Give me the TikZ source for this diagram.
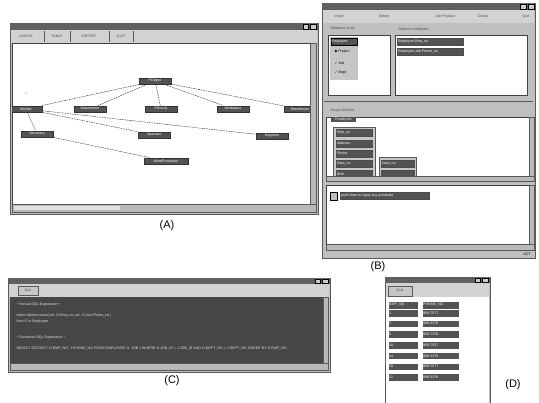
\documentclass[tikz,border=0pt]{standalone}
\usepackage{fontspec}
\setmainfont{Liberation Sans}
\setsansfont{Liberation Sans}
\newfontfamily\symfont{DejaVu Sans}
\tikzset{
  frame/.style={fill=gray!50, draw=gray!70!black, line width=0.6pt},
  titlebar/.style={fill=gray!75!black},
  menubar/.style={fill=gray!35},
  pane/.style={fill=white, draw=black!75, line width=0.5pt},
  scrollbar/.style={fill=gray!55, draw=gray!70!black, line width=0.3pt},
  tiny/.style={font=\fontsize{3.6}{4}\selectfont},
  cls/.style={tiny, fill=gray!65!black, draw=black!80, text=white, inner sep=0.8pt, minimum width=32pt, minimum height=6.5pt},
  item/.style={tiny, fill=gray!65!black, draw=black!70, text=white, inner sep=0.8pt, minimum height=7pt, anchor=west, align=left},
  cell/.style={tiny, fill=gray!65!black, draw=white, text=white, inner sep=1pt, minimum height=7.5pt, anchor=west, align=left},
  menu/.style={tiny, text=black!70},
  caption/.style={font=\fontsize{11}{12}\selectfont},
  link/.style={black!80, line width=0.45pt, dash pattern=on 1.6pt off 0.9pt}
}
\begin{document}
\begin{tikzpicture}[x=1pt,y=-1pt]
  \useasboundingbox (0,0) rectangle (539,403);

  % window A: class graph
  \draw[frame] (10,23) rectangle (318,214);
  \fill[titlebar] (10,23) rectangle (318,30);
  \draw[fill=gray!40] (303,24) rectangle (308,29) (310,24) rectangle (316,29);
  \fill[menubar] (11,30) rectangle (317,43);
  \draw[gray!70!black] (44,31) -- (44,42) (70,31) -- (70,42) (109,31) -- (109,42) (133,31) -- (133,42);
  \node[menu] (aLayout) at (26,36.5) {LAYOUT};
  \node[menu] (aTable) at (57,36.5) {TABLE};
  \node[menu] (aExport) at (89,36.5) {EXPORT};
  \node[menu] (aQuit) at (121,36.5) {QUIT};
  \draw[pane] (12,43) rectangle (310,204);
  \begin{scope}
    \clip (12,43) rectangle (310,204);
    \draw
      (155,81) node[cls] (po){PObject}
      (26,109) node[cls] (wk){Worker}
      (90,109) node[cls] (dep){Department}
      (161,109) node[cls] (hr){PHourly}
      (233,109) node[cls] (wp){Workplace}
      (300,109) node[cls] (wh){Warehouse}
      (37,134) node[cls] (sec){Secretary}
      (154,135) node[cls] (op){Operator}
      (272,136) node[cls] (eng){Engineer}
      (166,161) node[cls, minimum width=44pt] (wpr){WordProcessor};
    \begin{scope}[link]
      \draw (po) to (wk);
      \draw (po) to (dep);
      \draw (po) to (hr);
      \draw (po) to (wp);
      \draw (po) to (wh);
      \draw (wk) to (sec);
      \draw (wk) to (op);
      \draw (wk) to (eng);
      \draw (sec) to (wpr);
    \end{scope}
    \fill[gray] (26,93) circle (0.6pt);
  \end{scope}
  \draw[scrollbar] (310,43) rectangle (316,204);
  \draw[scrollbar] (12,204) rectangle (316,212);
  \fill[gray!25] (14,206) rectangle (120,210);
  \node[caption] (capA) at (167,226) {(A)};

  % window B: query builder
  \draw[frame] (322,3) rectangle (535,258);
  \fill[titlebar] (322,3) rectangle (535,10);
  \draw[fill=gray!40] (520,4) rectangle (526,9) (528,4) rectangle (534,9);
  \fill[menubar] (323,10) rectangle (534,23);
  \node[menu] (bInsert) at (339,16.5) {Insert};
  \node[menu] (bDelete) at (384,16.5) {Delete};
  \node[menu] (bJoin) at (445,16.5) {Join Product};
  \node[menu] (bCheck) at (483,16.5) {Check};
  \node[menu] (bQuit) at (526,16.5) {Quit};
  \node[menu, anchor=west] (bRel) at (327,29) {Relations (List)};
  \node[menu, anchor=west] (bSel) at (395,29) {Selected Attributes};
  \draw[pane] (328,35) rectangle (390,95);
  \draw[pane] (395,35) rectangle (527,95);
  \fill[gray!45] (330,37) rectangle (358,80);
  \node[item, draw=black, line width=0.6pt, text width=25pt] (bEmp) at (330.5,41.5) {Employee};
  \node[tiny, anchor=west] (bProj) at (331,52) {{\symfont ◆} Project};
  \node[tiny, anchor=west] (bJob) at (331,63) {{\symfont ✓} Job};
  \node[tiny, anchor=west] (bDept) at (331,73) {{\symfont ✓} Dept};
  \node[item, text width=64pt] (bAttrA) at (397,41.5) {Employee.Emp\_no};
  \node[item, text width=64pt] (bAttrB) at (397,51.5) {Employee.Job.Phone\_no};
  \draw[gray!70!black] (324,101) -- (533,101);
  \node[menu, anchor=west] (bTarget) at (327,111) {Target Window};
  \draw[pane] (326,117) rectangle (529,176);
  \begin{scope}
    \clip (326,117) rectangle (529,176);
    \fill[gray!65!black] (331,117) rectangle (356,122);
    \node[tiny, text=white] (bTab) at (343.5,119.5) {Employee};
    \draw[fill=gray!45, draw=gray!70!black] (333,127) rectangle (375,182);
    \foreach \i/\t in {0/Emp\_no, 1/Address, 2/Phone, 3/Dept\_no, 4/Birth}
      \node[item, text width=34pt] (bCol\i) at (336,{133+10.3*\i}) {\t};
    \draw[fill=gray!45, draw=gray!70!black] (379,157) rectangle (416,182);
    \node[item, text width=31pt] (bDno) at (381,163.5) {Dept\_no};
    \node[item, text width=31pt] (bDnx) at (381,174) {};
  \end{scope}
  \draw[scrollbar] (529,117) rectangle (534,176);
  \draw[scrollbar] (326,176) rectangle (534,181);
  \draw[pane] (326,185) rectangle (529,244);
  \draw[fill=gray!50] (330,192) rectangle (337,200);
  \node[item, text width=87pt] (bPred) at (340,196) {push here to input any predicate};
  \draw[scrollbar] (529,185) rectangle (534,244);
  \draw[scrollbar] (326,244) rectangle (534,250);
  \node[tiny] (bAct) at (527,254) {ACT};
  \node[caption] (capB) at (378,267) {(B)};

  % window C: expressions
  \draw[frame] (8,278) rectangle (330,372);
  \fill[titlebar] (8,278) rectangle (330,284);
  \draw[fill=gray!40] (315,279) rectangle (320,283) (322,279) rectangle (328,283);
  \fill[menubar] (9,284) rectangle (329,297);
  \draw[fill=gray!45, draw=gray!70!black] (18,286) rectangle (38,295);
  \node[menu] (cQuit) at (28,290.5) {Quit};
  \fill[gray!55!black] (10,297) rectangle (323,363);
  \begin{scope}[every node/.style={tiny, text=gray!20, anchor=west}]
    \node (cHdA) at (13,305) {* Textual OQL Expression *};
    \node (cOqlA) at (13,316) {select distinct struct( e\#: O.Emp\_no, p\#: O.Job.Phone\_no )};
    \node (cOqlB) at (13,322) {from O in Employee};
    \node (cHdB) at (13,338) {* Converted SQL Expression *};
    \node (cSql) at (13,349) {SELECT DISTINCT O.EMP\_NO, J.PHONE\_NO FROM EMPLOYEE O, JOB J WHERE O.JOB\_ID = J.JOB\_ID AND O.DEPT\_NO = J.DEPT\_NO ORDER BY O.EMP\_NO};
  \end{scope}
  \draw[scrollbar] (323,297) rectangle (328,363);
  \draw[scrollbar] (10,363) rectangle (328,370);
  \node[caption] (capC) at (172,381) {(C)};

  % window D: result table
  \draw[frame] (385,277) rectangle (490,404);
  \fill[titlebar] (385,277) rectangle (490,283);
  \draw[fill=gray!40] (475,278) rectangle (480,282) (482,278) rectangle (488,282);
  \fill[menubar] (386,283) rectangle (489,297);
  \draw[fill=gray!45, draw=gray!70!black] (388,286) rectangle (412,296);
  \node[menu] (dQuit) at (400,291) {Quit};
  \fill[white] (386,297) rectangle (489,404);
  \node[cell, text width=28pt] (dHdA) at (388,305) {EMP\_NO};
  \node[cell, text width=35pt] (dHdB) at (422,305) {PHONE\_NO};
  \foreach \i/\e/\p in {0/1/869-7577, 1/2/489-3376, 2/6/869-7376, 3/10/869-7527,
                        4/14/889-3376, 5/18/869-7577, 6/22/889-3376} {
    \node[cell, text width=28pt] (dE\i) at (388,{313+10.7*\i}) {\e};
    \node[cell, text width=35pt] (dP\i) at (422,{313+10.7*\i}) {\p};
  }
  \node[caption] (capD) at (513,385) {(D)};
\end{tikzpicture}
\end{document}
